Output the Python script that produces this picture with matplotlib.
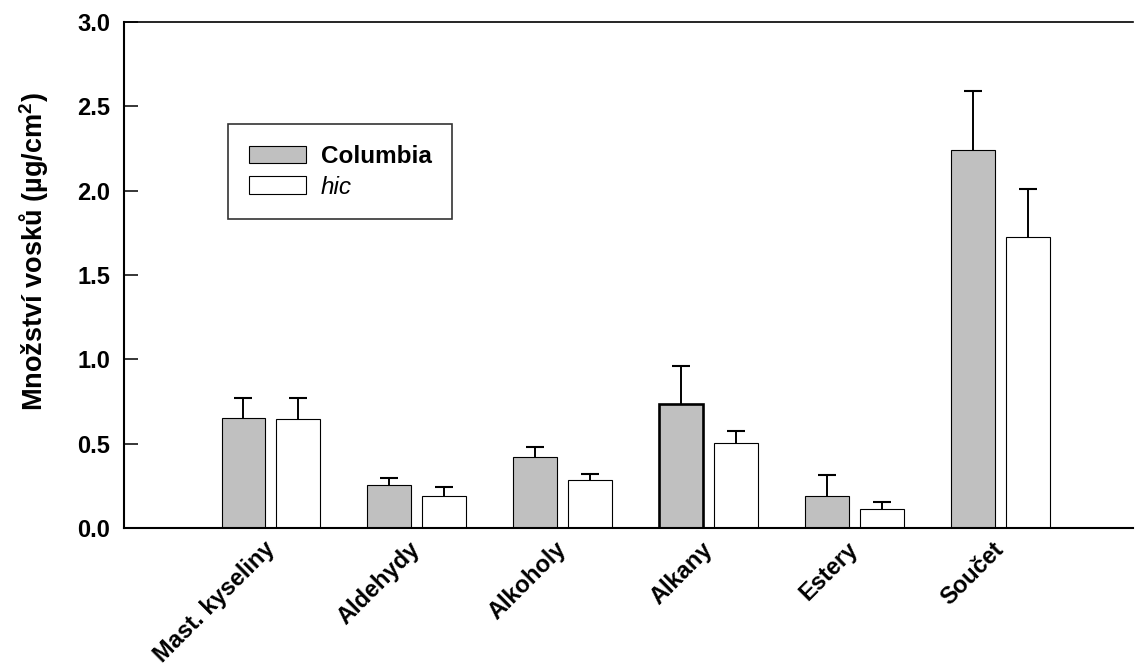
import numpy as np
import matplotlib
matplotlib.use("Agg")
import matplotlib.pyplot as plt
from matplotlib.transforms import ScaledTranslation

plt.rcParams['font.family'] = ['Liberation Sans', 'DejaVu Sans']

# Wax amounts per compound class (mean and upper SD)
categories = ["Mast. kyseliny", "Aldehydy", "Alkoholy", "Alkany", "Estery", "Součet"]
columbia = [0.654, 0.253, 0.423, 0.735, 0.192, 2.239]
columbia_err = [0.118, 0.045, 0.057, 0.225, 0.122, 0.354]
hic = [0.648, 0.192, 0.286, 0.502, 0.111, 1.724]
hic_err = [0.121, 0.051, 0.034, 0.073, 0.043, 0.288]
yticks = [0.0, 0.5, 1.0, 1.5, 2.0, 2.5, 3.0]

fig = plt.figure(figsize=(11.37, 6.72), dpi=100)
ax = fig.add_axes([0.1091, 0.2143, 0.8874, 0.7530])

x = np.arange(len(categories))
w = 0.30
off = 0.1878

col_lw = [0.8] * len(categories)
col_lw[3] = 1.9

ax.bar(x - off, columbia, w, color="#c0c0c0", edgecolor="black",
       linewidth=col_lw, label="Columbia", zorder=2)
ax.bar(x + off, hic, w, color="white", edgecolor="black",
       linewidth=0.8, label="hic", zorder=2)

# upper-only error bars with flat caps
for xs, ys, es in ((x - off, columbia, columbia_err), (x + off, hic, hic_err)):
    ys = np.asarray(ys)
    es = np.asarray(es)
    ax.errorbar(xs, ys, yerr=[np.zeros_like(es), es], fmt="none",
                ecolor="black", elinewidth=1.4, capsize=0, zorder=3)
    ax.plot(xs, ys + es, ls="none", marker="_", ms=12.7, mew=1.5,
            color="black", zorder=3)

ax.set_xlim(-1.006, 5.91)
ax.set_ylim(0, 3.0)
ax.set_yticks(yticks)
ax.set_yticklabels([f"{v:.1f}" for v in yticks], fontsize=17, fontweight="bold")
ax.tick_params(axis="y", direction="in", length=10, width=1.1, pad=10)
ax.tick_params(axis="x", length=0, pad=7)

ax.set_xticks(x)
ax.set_xticklabels(categories, rotation=45, ha="right", va="top",
                   rotation_mode="anchor", fontsize=17, fontweight="bold")
shift = ScaledTranslation(-0.08, 0, fig.dpi_scale_trans)
for lab in ax.get_xticklabels():
    lab.set_transform(lab.get_transform() + shift)

ax.spines["right"].set_visible(False)
for s in ("left", "bottom", "top"):
    ax.spines[s].set_linewidth(1.5)
ax.spines["top"].set_linewidth(1.2)

ax.set_ylabel("Množství vosků (µg/cm$^\\mathregular{2}$)", fontsize=19.5, fontweight="bold")
ax.yaxis.set_label_coords(-0.072, 0.547)

leg = ax.legend(loc="upper left", bbox_to_anchor=(0.103, 0.798),
                fontsize=17.5, frameon=True, fancybox=False, shadow=False,
                handlelength=2.35, handleheight=0.72, handletextpad=0.62,
                labelspacing=0.32, borderpad=0.85, borderaxespad=0)
leg.get_frame().set_edgecolor("black")
leg.get_frame().set_linewidth(1.2)
texts = leg.get_texts()
texts[0].set_fontweight("bold")
texts[1].set_fontstyle("italic")

fig.savefig("out.png", dpi=100)
